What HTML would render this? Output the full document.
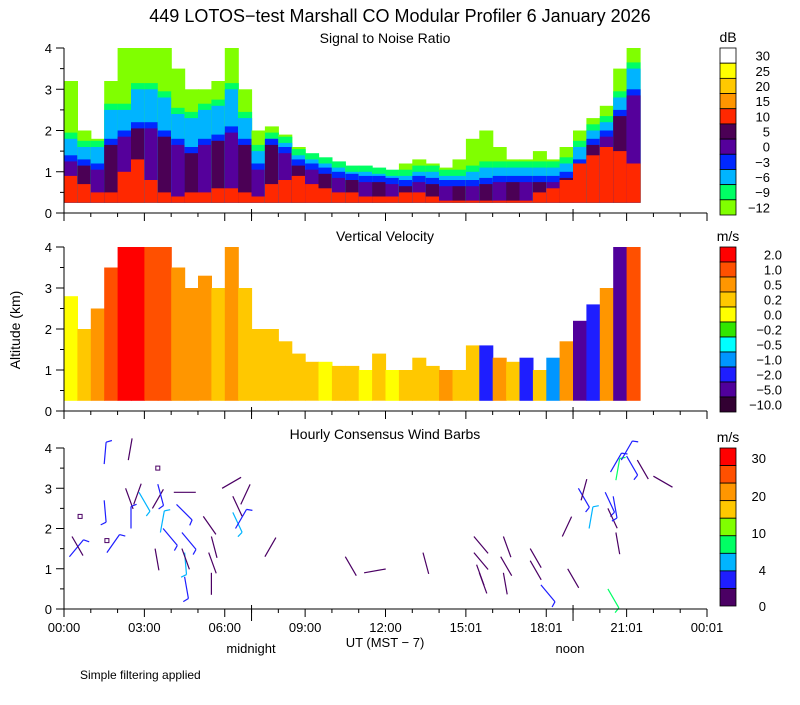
<!DOCTYPE html>
<html><head><meta charset="utf-8"><style>
body{margin:0;background:#fff;}
svg text{font-family:"Liberation Sans",sans-serif;fill:#000;}
</style></head><body>
<svg id="c" width="800" height="700" xmlns="http://www.w3.org/2000/svg">
<text x="400" y="22" font-size="18" text-anchor="middle">449 LOTOS−test Marshall CO Modular Profiler  6 January 2026</text>
<text x="385" y="43" font-size="14" text-anchor="middle">Signal to Noise Ratio</text>
<text x="385" y="241" font-size="14" text-anchor="middle">Vertical Velocity</text>
<text x="385" y="439" font-size="14" text-anchor="middle">Hourly Consensus Wind Barbs</text>
<text x="20" y="330" font-size="14" text-anchor="middle" transform="rotate(-90 20 330)">Altitude (km)</text>
<text x="385" y="647" font-size="13" text-anchor="middle">UT  (MST − 7)</text>
<text x="251" y="653" font-size="13" text-anchor="middle">midnight</text>
<text x="570" y="653" font-size="13" text-anchor="middle">noon</text>
<text x="80" y="679" font-size="12">Simple filtering applied</text>
</svg>
<script>
// ---- data ----
const hours=[0,0.5,1,1.5,2,2.5,3,3.5,4,4.5,5,5.5,6,6.5,7,7.5,8,8.5,9,9.5,10,10.5,11,11.5,12,12.5,13,13.5,14,14.5,15,15.5,16,16.5,17,17.5,18,18.5,19,19.5,20,20.5,21];
const snrLimeTop=[3.2,2.0,1.8,3.2,4,4,4,4,3.5,3.0,3.0,3.2,4.0,3.0,2.0,2.1,1.9,1.6,1.4,1.3,1.2,1.1,1.1,1.0,1.0,1.2,1.3,1.2,1.1,1.3,1.8,2.0,1.6,1.3,1.3,1.5,1.3,1.6,2.0,2.3,2.6,3.5,4];
const snrCyanTop=[1.8,1.6,1.6,2.5,2.5,3.0,3.0,2.8,2.4,2.3,2.5,2.6,3.0,2.3,1.5,1.8,1.7,1.4,1.3,1.2,1.1,1.0,1.0,0.95,0.9,0.9,1.0,1.0,0.9,0.9,1.0,1.1,1.1,1.1,1.1,1.1,1.1,1.2,1.6,2.0,2.2,2.8,3.5];
const snrBlueTop=[1.4,1.3,1.2,1.8,2.0,2.2,2.2,2.0,1.8,1.6,1.8,1.9,2.1,1.8,1.2,1.8,1.6,1.3,1.2,1.1,1.0,0.95,0.9,0.9,0.85,0.8,0.9,0.85,0.8,0.8,0.8,0.85,0.9,0.9,0.9,0.9,0.9,1.0,1.3,1.8,2.0,2.5,3.0];
const snrRedTop=[0.9,0.7,0.5,0.5,1.0,1.3,0.8,0.5,0.4,0.5,0.5,0.6,0.6,0.5,0.4,0.7,0.8,0.9,0.7,0.6,0.5,0.5,0.4,0.4,0.4,0.5,0.5,0.4,0.3,0.3,0.3,0.3,0.3,0.3,0.3,0.5,0.6,0.8,1.2,1.4,1.6,1.5,1.2];
const vvTop=[2.8,2.0,2.5,3.5,4,4,4,4,3.5,3.0,3.3,3,4,3,2,2,1.7,1.4,1.2,1.2,1.1,1.1,1.0,1.4,1.0,1.0,1.3,1.1,1.0,1.0,1.6,1.6,1.3,1.2,1.3,1.0,1.3,1.7,2.2,2.6,3.0,4,4];
const vvValue=[0.1,0.3,0.7,1.5,2.5,2.5,1.5,1.0,0.7,0.5,0.6,0.4,0.5,0.3,0.4,0.3,0.3,0.2,0.3,0.1,0.2,0.3,0.1,0.2,0.1,0.3,0.2,0.3,0.5,0.4,0.3,-1.5,0.5,0.3,-1.5,0.4,-0.7,0.5,-3,-1.5,0.7,-3,1.5];
// wind barbs: hour, altitude km, angle deg, speed m/s
const barbHour=[0.2,0.3,1.5,1.5,1.6,2.4,2.3,2.5,2.6,2.8,3.3,3.5,3.6,3.7,3.4,4.1,4.2,4.4,4.5,4.5,4.4,5.2,5.5,5.4,5.5,5.9,6.3,6.4,6.6,6.3,7.5,10.5,11.2,13.4,15.3,15.3,15.4,15.5,16.4,16.3,16.4,17.4,17.4,17.8,18.6,18.8,19.2,19.3,19.6,20.2,20.3,20.4,20.6,20.6,20.5,20.8,21.0,21.4,22.0,20.3];
const barbAlt=[1.3,1.8,3.6,2.7,1.4,3.7,3.0,2.0,2.6,2.9,2.5,3.1,1.9,2.0,1.5,2.9,2.6,1.9,1.4,0.8,1.5,2.3,1.8,1.4,0.9,3.0,2.4,2.0,2.6,2.8,1.3,1.3,0.9,1.4,1.8,1.4,1.1,0.9,1.8,1.3,0.9,1.5,1.2,0.6,1.8,1.0,3.0,2.7,2.0,2.9,2.5,3.4,3.2,1.9,2.8,3.7,3.8,3.7,3.3,0.5];
const barbAngle=[40,150,5,175,35,10,160,0,20,150,30,165,10,140,170,90,135,140,175,170,160,145,165,160,180,60,155,30,25,155,30,150,80,165,140,140,160,160,160,150,170,150,150,140,25,150,150,15,10,155,155,30,10,170,170,30,150,150,120,150];
const barbSpeed=[3,1,3,3,3,1,1,3,1,5,1,3,5,3,1,1,3,3,5,3,1,1,1,1,1,1,5,3,1,1,1,1,1,1,1,1,1,1,1,1,1,1,1,3,1,1,3,1,5,3,1,3,8,1,3,3,3,1,1,8];
const boxHour=[0.6,1.6,3.5];
const boxAlt=[2.3,1.7,3.5];
const snrLabels=["30","25","20","15","10","5","0","−3","−6","−9","−12"];
const vvLabels=["2.0","1.0","0.5","0.2","0.0","−0.2","−0.5","−1.0","−2.0","−5.0","−10.0"];
const vvBounds=[2.0,1.0,0.5,0.2,0.0,-0.2,-0.5,-1.0,-2.0,-5.0,-10.0];
const windLabels=["30","20","10","4","0"];
const xTickLabels=["00:00","03:00","06:00","09:00","12:00","15:01","18:01","21:01","00:01"];
// ---- styles ----
const snrColors=["#ffffff","#ffff00","#ffc800","#ff9600","#ff2800","#4b0055","#55009b","#0028ff","#00b4ff","#00ff64","#80ff00"];
const vvColors=["#ff0000","#ff5000","#ff9600","#ffc800","#ffff00","#32e600","#00ffff","#0096ff","#1e1eff","#50009b","#320032"];
const windColors=["#ff0000","#ff5000","#ff9600","#ffc800","#80ff00","#00ff64","#00b4ff","#1e1eff","#4b0064"];
const svg=document.getElementById('c');
const NS="http://www.w3.org/2000/svg";
function mk(tag,attrs,parent){const e=document.createElementNS(NS,tag);for(const k in attrs)e.setAttribute(k,attrs[k]);(parent||svg).appendChild(e);return e;}
const X0=64,X1=707;
const xs=h=>X0+h/24*(X1-X0);
const panels=[{top:48,bot:213,name:'snr'},{top:247,bot:411,name:'vv'},{top:448,bot:609,name:'wind'}];
function ys(p,a){return p.bot-a/4*(p.bot-p.top);}
const bw=(X1-X0)/48;
// SNR
let p=panels[0];
let g=mk('g',{},svg);


hours.forEach((h,i)=>{
  const x=xs(h);
  const layers=[[snrLimeTop[i],snrColors[10]],[snrCyanTop[i]+0.15,snrColors[9]],[snrCyanTop[i],snrColors[8]],[snrBlueTop[i],snrColors[7]],[snrBlueTop[i]-0.15,i%2?snrColors[5]:snrColors[6]],[snrRedTop[i],snrColors[4]]];
  layers.forEach(([t,c])=>{
    if(t<=0.25)return;
    const r=mk('rect',{x:x.toFixed(1),y:ys(p,t).toFixed(1),width:(bw+0.6).toFixed(1),height:(ys(p,0.25)-ys(p,t)).toFixed(1),fill:c},g);
    
    
  });
});
// VV
p=panels[1];
g=mk('g',{},svg);


function vvColor(v){for(let k=0;k<vvBounds.length;k++){if(v>=vvBounds[k])return vvColors[k];}return vvColors[10];}
hours.forEach((h,i)=>{
  const r=mk('rect',{x:xs(h).toFixed(1),y:ys(p,vvTop[i]).toFixed(1),width:(bw+0.6).toFixed(1),height:(ys(p,0.25)-ys(p,vvTop[i])).toFixed(1),fill:vvColor(vvValue[i])},g);
  
  
});
// Wind barbs
p=panels[2];
g=mk('g',{},svg);


function windColor(s){const b=[30,25,20,15,10,6,4,2,0];for(let k=0;k<b.length;k++)if(s>=b[k])return windColors[k];return windColors[8];}
barbHour.forEach((h,i)=>{
  const x=xs(h),y=ys(p,barbAlt[i]),a=barbAngle[i]*Math.PI/180,L=22;
  const x2=x+Math.sin(a)*L,y2=y-Math.cos(a)*L;
  const c=windColor(barbSpeed[i]);
  const l=mk('line',{x1:x.toFixed(1),y1:y.toFixed(1),x2:x2.toFixed(1),y2:y2.toFixed(1),stroke:c,'stroke-width':1.2},g);
  
  
  if(barbSpeed[i]>=2){const bx=x2+Math.sin(a+1.2)*6,by=y2-Math.cos(a+1.2)*6;
    const f=mk('line',{x1:x2.toFixed(1),y1:y2.toFixed(1),x2:bx.toFixed(1),y2:by.toFixed(1),stroke:c,'stroke-width':1.2},g);
    
    }
});
boxHour.forEach((h,i)=>{
  const r=mk('rect',{x:(xs(h)-2).toFixed(1),y:(ys(p,boxAlt[i])-2).toFixed(1),width:4,height:4,fill:'none',stroke:'#4b0064','stroke-width':1},g);
  
  
});
// axes
panels.forEach((p,pi)=>{
  const ax=mk('g',{stroke:'#000','stroke-width':1},svg);
  
  
  mk('line',{x1:X0,y1:p.top,x2:X0,y2:p.bot},ax);
  mk('line',{x1:X0,y1:p.bot,x2:X1,y2:p.bot},ax);
  for(let k=0;k<=8;k++){const y=ys(p,k/2);mk('line',{x1:X0-(k%2?4:8),y1:y,x2:X0,y2:y},ax);
    if(k%2==0){const t=mk('text',{x:X0-12,y:y+5,'font-size':13,'text-anchor':'end',stroke:'none'},svg);t.textContent=k/2;
      
      }}
  for(let h=0;h<=24;h++){const x=xs(h);mk('line',{x1:x,y1:p.bot,x2:x,y2:p.bot+(h%3?4:8)},ax);}
  [7,19].forEach(h=>mk('line',{x1:xs(h),y1:p.bot-4,x2:xs(h),y2:p.bot+(pi==2?12:8)},ax));
});
xTickLabels.forEach((s,k)=>{const t=mk('text',{x:xs(k*3),y:632,'font-size':13,'text-anchor':'middle'});t.textContent=s;
  
  });
// colorbars
function cbar(top,bot,cols,labels,unit,name,lx,every){
  const cg=mk('g',{},svg);
  
  
  const h=(bot-top)/cols.length;
  cols.forEach((c,k)=>mk('rect',{x:720,y:top+k*h,width:16,height:h,fill:c,stroke:'#000','stroke-width':0.8},cg));
  labels.forEach((s,k)=>{const t=mk('text',{x:lx,y:every?top+every[k]:top+k*h+h/2+5,'font-size':13,'text-anchor':'end'},cg);t.textContent=s;});
  const u=mk('text',{x:728,y:top-6,'font-size':14,'text-anchor':'middle'},cg);u.textContent=unit;
}
cbar(48,215,snrColors,snrLabels,'dB','snr-colorbar',770);
cbar(247,412,vvColors,vvLabels,'m/s','vv-colorbar',782);
cbar(448,606,windColors,windLabels,'m/s','wind-colorbar',766,[15,53,90,127,163]);
</script>
</body></html>
